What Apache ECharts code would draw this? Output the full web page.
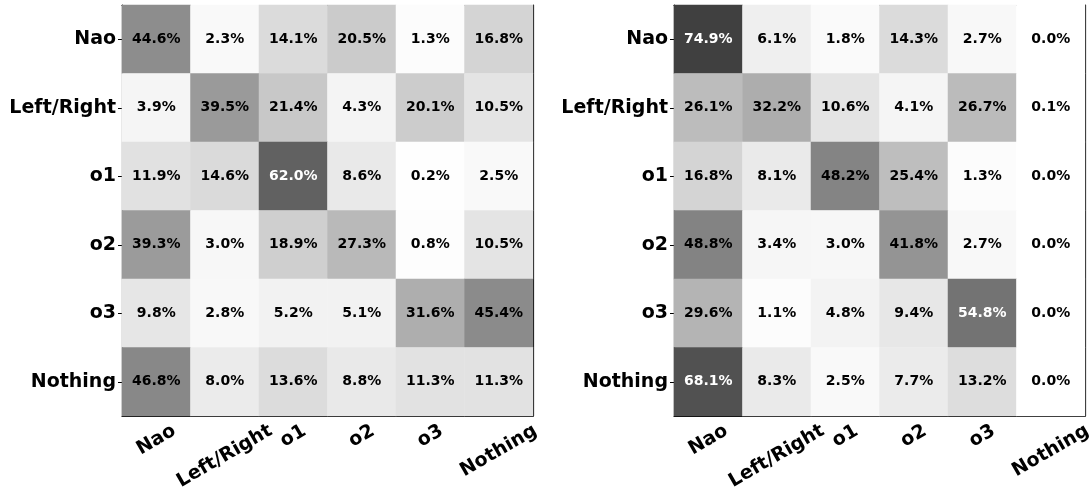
<!DOCTYPE html>
<html><head><meta charset="utf-8">
<script src="https://cdn.jsdelivr.net/npm/echarts@6/dist/echarts.min.js"></script>
<style>html,body{margin:0;padding:0;background:#fff}#c{width:1091px;height:491px}</style>
</head><body><div id="c"></div>
<script>
// Category labels (rows = true class, columns = predicted class)
const categories = ['Nao', 'Left/Right', 'o1', 'o2', 'o3', 'Nothing'];

// Left confusion matrix (percent), one array per row
const leftValues = [
  [44.6, 2.3, 14.1, 20.5, 1.3, 16.8],
  [3.9, 39.5, 21.4, 4.3, 20.1, 10.5],
  [11.9, 14.6, 62.0, 8.6, 0.2, 2.5],
  [39.3, 3.0, 18.9, 27.3, 0.8, 10.5],
  [9.8, 2.8, 5.2, 5.1, 31.6, 45.4],
  [46.8, 8.0, 13.6, 8.8, 11.3, 11.3]
];

// Right confusion matrix (percent), one array per row
const rightValues = [
  [74.9, 6.1, 1.8, 14.3, 2.7, 0.0],
  [26.1, 32.2, 10.6, 4.1, 26.7, 0.1],
  [16.8, 8.1, 48.2, 25.4, 1.3, 0.0],
  [48.8, 3.4, 3.0, 41.8, 2.7, 0.0],
  [29.6, 1.1, 4.8, 9.4, 54.8, 0.0],
  [68.1, 8.3, 2.5, 7.7, 13.2, 0.0]
];

const FONT = '"DejaVu Sans", "Liberation Sans", sans-serif';
const AXIS_FS = 19, CELL_FS = 14;
const plotTop = 5, plotSize = 411, labelMargin = 13;

// x labels: emulate matplotlib rotation=30 with centered bbox under each tick
const ctx = document.createElement('canvas').getContext('2d');
ctx.font = 'bold ' + AXIS_FS + 'px "DejaVu Sans"';
const xRich = {};
categories.forEach((c, i) => {
  const w = ctx.measureText(c).width;
  const centerBelow = 4 + (w * 0.5 + AXIS_FS * 1.16 * 0.866) / 2;
  const H = Math.max(0, centerBelow - labelMargin);
  xRich['x' + i] = {
    fontFamily: FONT, fontWeight: 'bold', fontSize: AXIS_FS, color: '#000',
    padding: [1.732 * H, H, 0, 0]
  };
});

function buildData(values) {
  const out = [];
  values.forEach((row, r) => {
    row.forEach((v, c) => {
      out.push({
        value: [c, r, v],
        label: { color: v > 50 ? '#ffffff' : '#000000' }
      });
    });
  });
  return out;
}

const grids = [], xAxes = [], yAxes = [], series = [];
[leftValues, rightValues].forEach((vals, g) => {
  const left = g === 0 ? 122 : 674;
  grids.push({ left: left, top: plotTop, width: plotSize, height: plotSize,
    containLabel: false, outerBoundsMode: 'none' });
  const axisLine = { show: true, onZero: false, lineStyle: { color: '#000', width: 1.2 } };
  xAxes.push({
    type: 'category', data: categories, gridIndex: g, position: 'bottom',
    axisLine: axisLine,
    axisTick: { show: true, inside: true, alignWithLabel: true, length: 5, lineStyle: { color: '#000' } },
    axisLabel: {
      rotate: 30, align: 'center', verticalAlign: 'middle', margin: labelMargin,
      interval: 0, hideOverlap: false,
      formatter: (v) => '{x' + categories.indexOf(v) + '|' + v + '}',
      rich: xRich
    },
    splitLine: { show: false }
  });
  xAxes.push({
    type: 'category', data: categories, gridIndex: g, position: 'top',
    axisLine: axisLine,
    axisTick: { show: true, inside: true, alignWithLabel: true, length: 5, lineStyle: { color: '#000' } },
    axisLabel: { show: false }, splitLine: { show: false }
  });
  yAxes.push({
    type: 'category', data: categories, gridIndex: g, position: 'left', inverse: true,
    axisLine: axisLine,
    axisTick: { show: true, inside: false, alignWithLabel: true, length: 4, lineStyle: { color: '#000' } },
    axisLabel: { interval: 0, margin: 6, fontFamily: FONT, fontWeight: 'bold', fontSize: AXIS_FS, color: '#000' },
    splitLine: { show: false }
  });
  yAxes.push({
    type: 'category', data: categories, gridIndex: g, position: 'right', inverse: true,
    axisLine: axisLine,
    axisTick: { show: true, inside: true, alignWithLabel: true, length: 5, lineStyle: { color: '#000' } },
    axisLabel: { show: false }, splitLine: { show: false }
  });
  series.push({
    type: 'heatmap',
    xAxisIndex: 2 * g, yAxisIndex: 2 * g,
    data: buildData(vals),
    itemStyle: { borderWidth: 0 },
    label: {
      show: true, fontFamily: FONT, fontWeight: 'bold', fontSize: CELL_FS,
      formatter: (p) => p.value[2].toFixed(1) + '%'
    },
    emphasis: { disabled: true },
    z: 1
  });
});

const chart = echarts.init(document.getElementById('c'), null, { renderer: 'canvas' });
chart.setOption({
  animation: false,
  backgroundColor: '#ffffff',
  grid: grids,
  xAxis: xAxes,
  yAxis: yAxes,
  visualMap: {
    show: false, min: 0, max: 100, dimension: 2, seriesIndex: [0, 1],
    inRange: { color: ['#ffffff', '#000000'] }
  },
  series: series
});
</script>
</body></html>
